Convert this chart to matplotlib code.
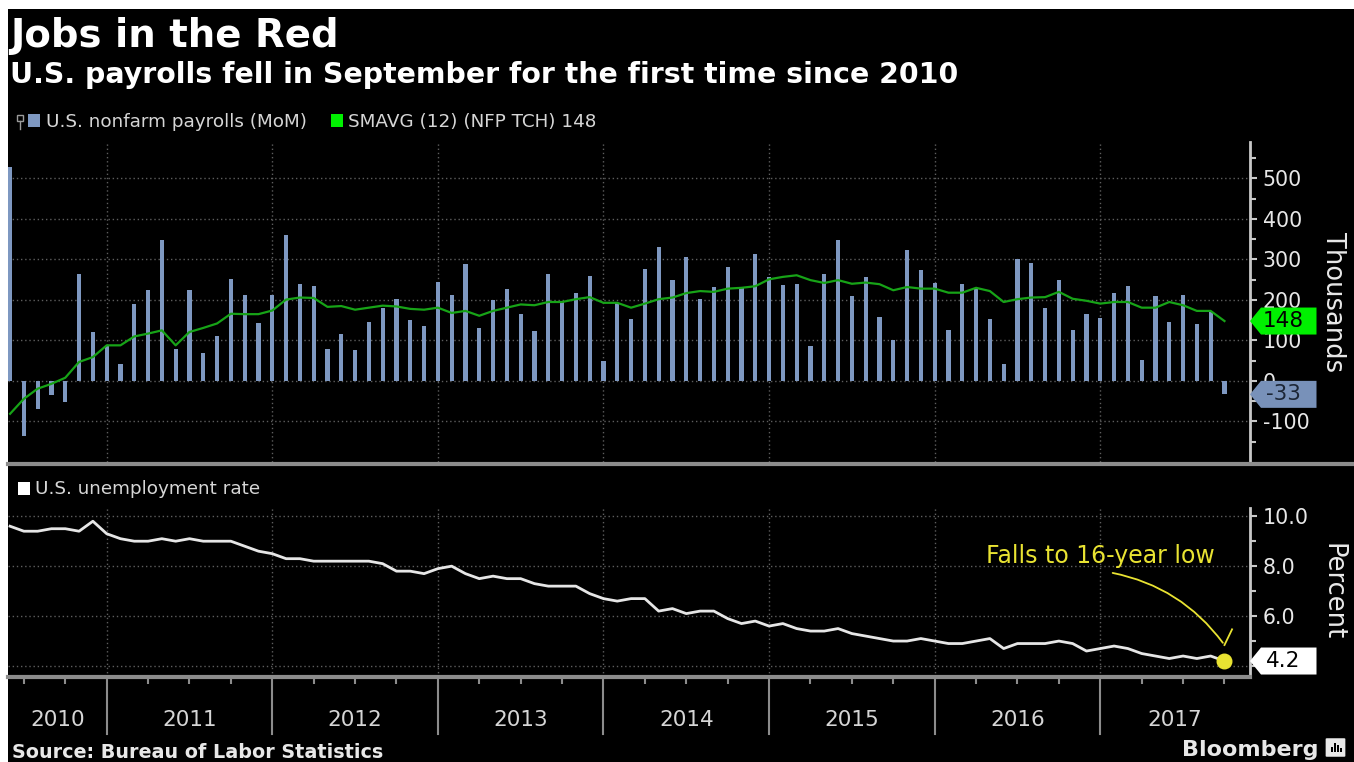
import numpy as np
import matplotlib
matplotlib.use('Agg')
import matplotlib.pyplot as plt
from matplotlib import transforms
from matplotlib.patches import Rectangle, Polygon, FancyBboxPatch
from matplotlib.lines import Line2D

"""
Bloomberg style chart: US nonfarm payrolls (MoM, thousands) with a 12 month
moving average on top, and the unemployment rate below.
Monthly values from May 2010 to Sep 2017, read off the original chart.
"""

payrolls = [528, -137, -68, -35, -52, 265, 121, 86,
            43, 191, 225, 347, 80, 225, 70, 112, 251, 212, 143, 212,
            361, 240, 234, 80, 115, 76, 146, 179, 203, 150, 135, 244,
            212, 290, 131, 199, 228, 166, 123, 265, 195, 216, 259, 49,
            193, 154, 276, 331, 249, 306, 203, 232, 281, 230, 314, 257,
            236, 240, 86, 265, 347, 209, 257, 158, 100, 323, 275, 243,
            125, 240, 228, 154, 43, 300, 292, 179, 250, 125, 166, 156,
            217, 234, 51, 209, 146, 212, 140, 170, -33]

sma_12 = [-81, -44, -19, -7, 8, 47, 59, 88,
          88, 110, 117, 125, 88, 121, 131, 142, 166, 165, 165, 174,
          201, 206, 205, 183, 185, 176, 181, 186, 184, 178, 176, 181,
          168, 173, 161, 173, 181, 189, 187, 195, 195, 202, 207, 193,
          193, 181, 191, 202, 206, 217, 222, 220, 228, 230, 234, 251,
          257, 261, 249, 242, 249, 240, 243, 239, 224, 232, 228, 228,
          218, 218, 230, 222, 195, 202, 206, 207, 220, 203, 198, 191,
          195, 195, 181, 181, 195, 187, 173, 173, 148]

unemployment = [9.6, 9.4, 9.4, 9.5, 9.5, 9.4, 9.8, 9.3,
                9.1, 9.0, 9.0, 9.1, 9.0, 9.1, 9.0, 9.0, 9.0, 8.8, 8.6, 8.5,
                8.3, 8.3, 8.2, 8.2, 8.2, 8.2, 8.2, 8.1, 7.8, 7.8, 7.7, 7.9,
                8.0, 7.7, 7.5, 7.6, 7.5, 7.5, 7.3, 7.2, 7.2, 7.2, 6.9, 6.7,
                6.6, 6.7, 6.7, 6.2, 6.3, 6.1, 6.2, 6.2, 5.9, 5.7, 5.8, 5.6,
                5.7, 5.5, 5.4, 5.4, 5.5, 5.3, 5.2, 5.1, 5.0, 5.0, 5.1, 5.0,
                4.9, 4.9, 5.0, 5.1, 4.7, 4.9, 4.9, 4.9, 5.0, 4.9, 4.6, 4.7,
                4.8, 4.7, 4.5, 4.4, 4.3, 4.4, 4.3, 4.4, 4.2]

years = ['2010', '2011', '2012', '2013', '2014', '2015', '2016', '2017']
payroll_ticks = [-100, 0, 100, 200, 300, 400, 500]
rate_ticks = [4.0, 6.0, 8.0, 10.0]
# 4.0 sits fully under the last-value tag in the original, so it shows no label
rate_labels = ['', '6.0', '8.0', '10.0']

W, H = 1354, 762
BG = '#000000'
BAR = '#7e98c1'
TAG_BLUE = '#7891b9'
GREEN_LINE = '#17a317'
GREEN_TAG = '#00f000'
GRID = '#5e5e5e'
AXIS = '#8c8c8c'
SPINE = '#c8c8c8'
TEXT = '#e8e8e8'
LEGEND = '#d6d6d6'
YELLOW = '#e9e332'

plt.rcParams['font.family'] = 'DejaVu Sans'


def fx(px):
    return px / W


def fy(py):
    return 1 - py / H


fig = plt.figure(figsize=(W / 100, H / 100), dpi=100)
fig.patch.set_facecolor('white')
fig.add_artist(Rectangle((fx(8), 0), 1 - fx(8), fy(9), transform=fig.transFigure,
                         facecolor=BG, edgecolor='none', zorder=0))

x = np.arange(len(payrolls))
year_ends = x[7::12]          # December of each year sits on the year boundary
quarter_ends = [q for q in x[1::3] if q not in year_ends]
XMIN, XMAX = -0.15, 89.85


def style_axes(ax, ylim, ticks, labels, minor):
    ax.set_facecolor('none')
    ax.set_xlim(XMIN, XMAX)
    ax.set_ylim(*ylim)
    for s in ['top', 'left', 'bottom']:
        ax.spines[s].set_visible(False)
    ax.spines['right'].set_color(SPINE)
    ax.spines['right'].set_linewidth(2)
    ax.yaxis.tick_right()
    ax.set_yticks(ticks)
    ax.set_yticklabels(labels)
    ax.set_yticks(minor, minor=True)
    ax.tick_params(axis='y', which='both', direction='out', color=SPINE, width=1.5,
                   labelsize=14.8, labelcolor=TEXT, pad=4)
    ax.tick_params(axis='y', which='major', length=5)
    ax.tick_params(axis='y', which='minor', length=4)
    ax.grid(axis='y', which='major', color=GRID, linestyle=(0, (1, 2)), linewidth=1)
    for xe in year_ends:
        ax.axvline(xe, color=GRID, linestyle=(0, (1, 2)), linewidth=1, zorder=0)


def value_tag(ax, y, label, face, txt_color):
    anchor = transforms.blended_transform_factory(ax.transAxes, ax.transData)
    trans = fig.dpi_scale_trans + transforms.ScaledTranslation(1.0, y, anchor)
    h = 0.135
    verts = [(0.0, 0.0), (0.11, h), (0.665, h), (0.665, -h), (0.11, -h)]
    ax.add_patch(Polygon(verts, closed=True, transform=trans, facecolor=face,
                         edgecolor='none', clip_on=False, zorder=10))
    ax.annotate(label, xy=(1.0, y), xycoords=anchor, xytext=(33, 0),
                textcoords='offset pixels', ha='center', va='center',
                fontsize=15.5, color=txt_color, zorder=11, annotation_clip=False)


# ---- top panel: payrolls ----
ax1 = fig.add_axes([fx(8), fy(462), fx(1250) - fx(8), fy(142) - fy(462)])
style_axes(ax1, (-200, 590), payroll_ticks, [str(t) for t in payroll_ticks],
           list(range(-150, 600, 100)))
ax1.set_xticks([])
ax1.bar(x, payrolls, width=0.3, color=BAR, zorder=2)
ax1.plot(x, sma_12, color=GREEN_LINE, linewidth=1.6, zorder=3)
value_tag(ax1, sma_12[-1], str(sma_12[-1]), GREEN_TAG, '#000000')
value_tag(ax1, payrolls[-1], str(payrolls[-1]), TAG_BLUE, '#1c2636')

# ---- bottom panel: unemployment rate ----
ax2 = fig.add_axes([fx(8), fy(677), fx(1250) - fx(8), fy(508) - fy(677)])
style_axes(ax2, (3.56, 10.33), rate_ticks, rate_labels, [5, 7, 9])
ax2.spines['bottom'].set_visible(True)
ax2.spines['bottom'].set_color(AXIS)
ax2.spines['bottom'].set_linewidth(3)
ax2.set_xticks(quarter_ends)
ax2.set_xticklabels([])
ax2.tick_params(axis='x', direction='out', length=5, width=1.5, color=AXIS)
ax2.plot(x, unemployment, color='#e6e6e6', linewidth=2, zorder=3)
ax2.scatter([x[-1]], [unemployment[-1]], s=110, color=YELLOW, zorder=5, clip_on=False)
value_tag(ax2, unemployment[-1], '%.1f' % unemployment[-1], '#ffffff', '#000000')

# year separators and labels below the axis
xa = transforms.blended_transform_factory(ax2.transData, ax2.transAxes)
for xe in year_ends:
    ax2.plot([xe, xe], [0, -0.34], transform=xa, color=AXIS, linewidth=1.5, clip_on=False)
bounds = [XMIN] + list(year_ends) + [XMAX]
for i, yr in enumerate(years):
    ax2.text((bounds[i] + bounds[i + 1]) / 2, -0.255, yr, transform=xa, ha='center',
             va='center', fontsize=15.5, color=LEGEND)

# annotation
ax2.text(79.0, 8.42, 'Falls to 16-year low', ha='center', va='center',
         fontsize=17, color=YELLOW)
ax2.annotate('', xy=(88.0, 4.84), xytext=(79.7, 7.75),
             arrowprops=dict(arrowstyle='-', color=YELLOW, linewidth=1.3,
                             connectionstyle='arc3,rad=-0.2'))
ax2.plot([88.0, 88.55], [4.84, 5.47], color=YELLOW, linewidth=1.3, clip_on=False)

# ---- panel divider ----
fig.add_artist(Line2D([fx(8), 1], [fy(464), fy(464)], color=AXIS, linewidth=3))

# ---- titles and legends ----
fig.text(fx(10), fy(47), 'Jobs in the Red', fontsize=27.8, fontweight='bold',
         color='white', va='baseline')
fig.text(fx(10), fy(83), 'U.S. payrolls fell in September for the first time since 2010',
         fontsize=20.4, fontweight='bold', color='white', va='baseline')

# small pin icon in front of the legend
fig.add_artist(Rectangle((fx(17), fy(121)), fx(6), fy(115) - fy(121),
                         transform=fig.transFigure, facecolor='none',
                         edgecolor='#9a9a9a', linewidth=1))
fig.add_artist(Line2D([fx(20), fx(20)], [fy(121), fy(129)], color='#9a9a9a', linewidth=1))

fig.add_artist(Rectangle((fx(28), fy(127)), fx(12), fy(114) - fy(127),
                         transform=fig.transFigure, facecolor=BAR, edgecolor='none'))
fig.text(fx(46), fy(122), 'U.S. nonfarm payrolls (MoM)', fontsize=13.2,
         color=LEGEND, va='center')
fig.add_artist(Rectangle((fx(331), fy(127)), fx(12), fy(114) - fy(127),
                         transform=fig.transFigure, facecolor=GREEN_TAG, edgecolor='none'))
fig.text(fx(348), fy(122), 'SMAVG (12) (NFP TCH) %d' % sma_12[-1], fontsize=13.2,
         color=LEGEND, va='center')

fig.add_artist(Rectangle((fx(18), fy(495)), fx(12), fy(482) - fy(495),
                         transform=fig.transFigure, facecolor='white', edgecolor='none'))
fig.text(fx(35), fy(489), 'U.S. unemployment rate', fontsize=13.2, color=LEGEND,
         va='center')

fig.text(fx(1333), fy(302), 'Thousands', rotation=270, fontsize=18.5, color=TEXT,
         ha='center', va='center')
fig.text(fx(1333), fy(592), 'Percent', rotation=270, fontsize=18.5, color=TEXT,
         ha='center', va='center')

# ---- footer ----
fig.text(fx(12), fy(758), 'Source: Bureau of Labor Statistics', fontsize=13.8,
         fontweight='bold', color=TEXT, va='baseline')
fig.text(fx(1318), fy(756), 'Bloomberg', fontsize=16, fontweight='bold', color=TEXT,
         ha='right', va='baseline')
fig.add_artist(FancyBboxPatch((fx(1327), fy(756)), fx(17), fy(739) - fy(756),
                              boxstyle='round,pad=0.001', transform=fig.transFigure,
                              facecolor=TEXT, edgecolor='none'))
for bx, bh in zip([1331, 1334, 1337, 1340], [5, 9, 7, 4]):
    fig.add_artist(Rectangle((fx(bx), fy(752)), fx(1.6), fy(752 - bh) - fy(752),
                             transform=fig.transFigure, facecolor='#000000',
                             edgecolor='none'))

fig.savefig('out.png', dpi=100, facecolor=fig.get_facecolor())
